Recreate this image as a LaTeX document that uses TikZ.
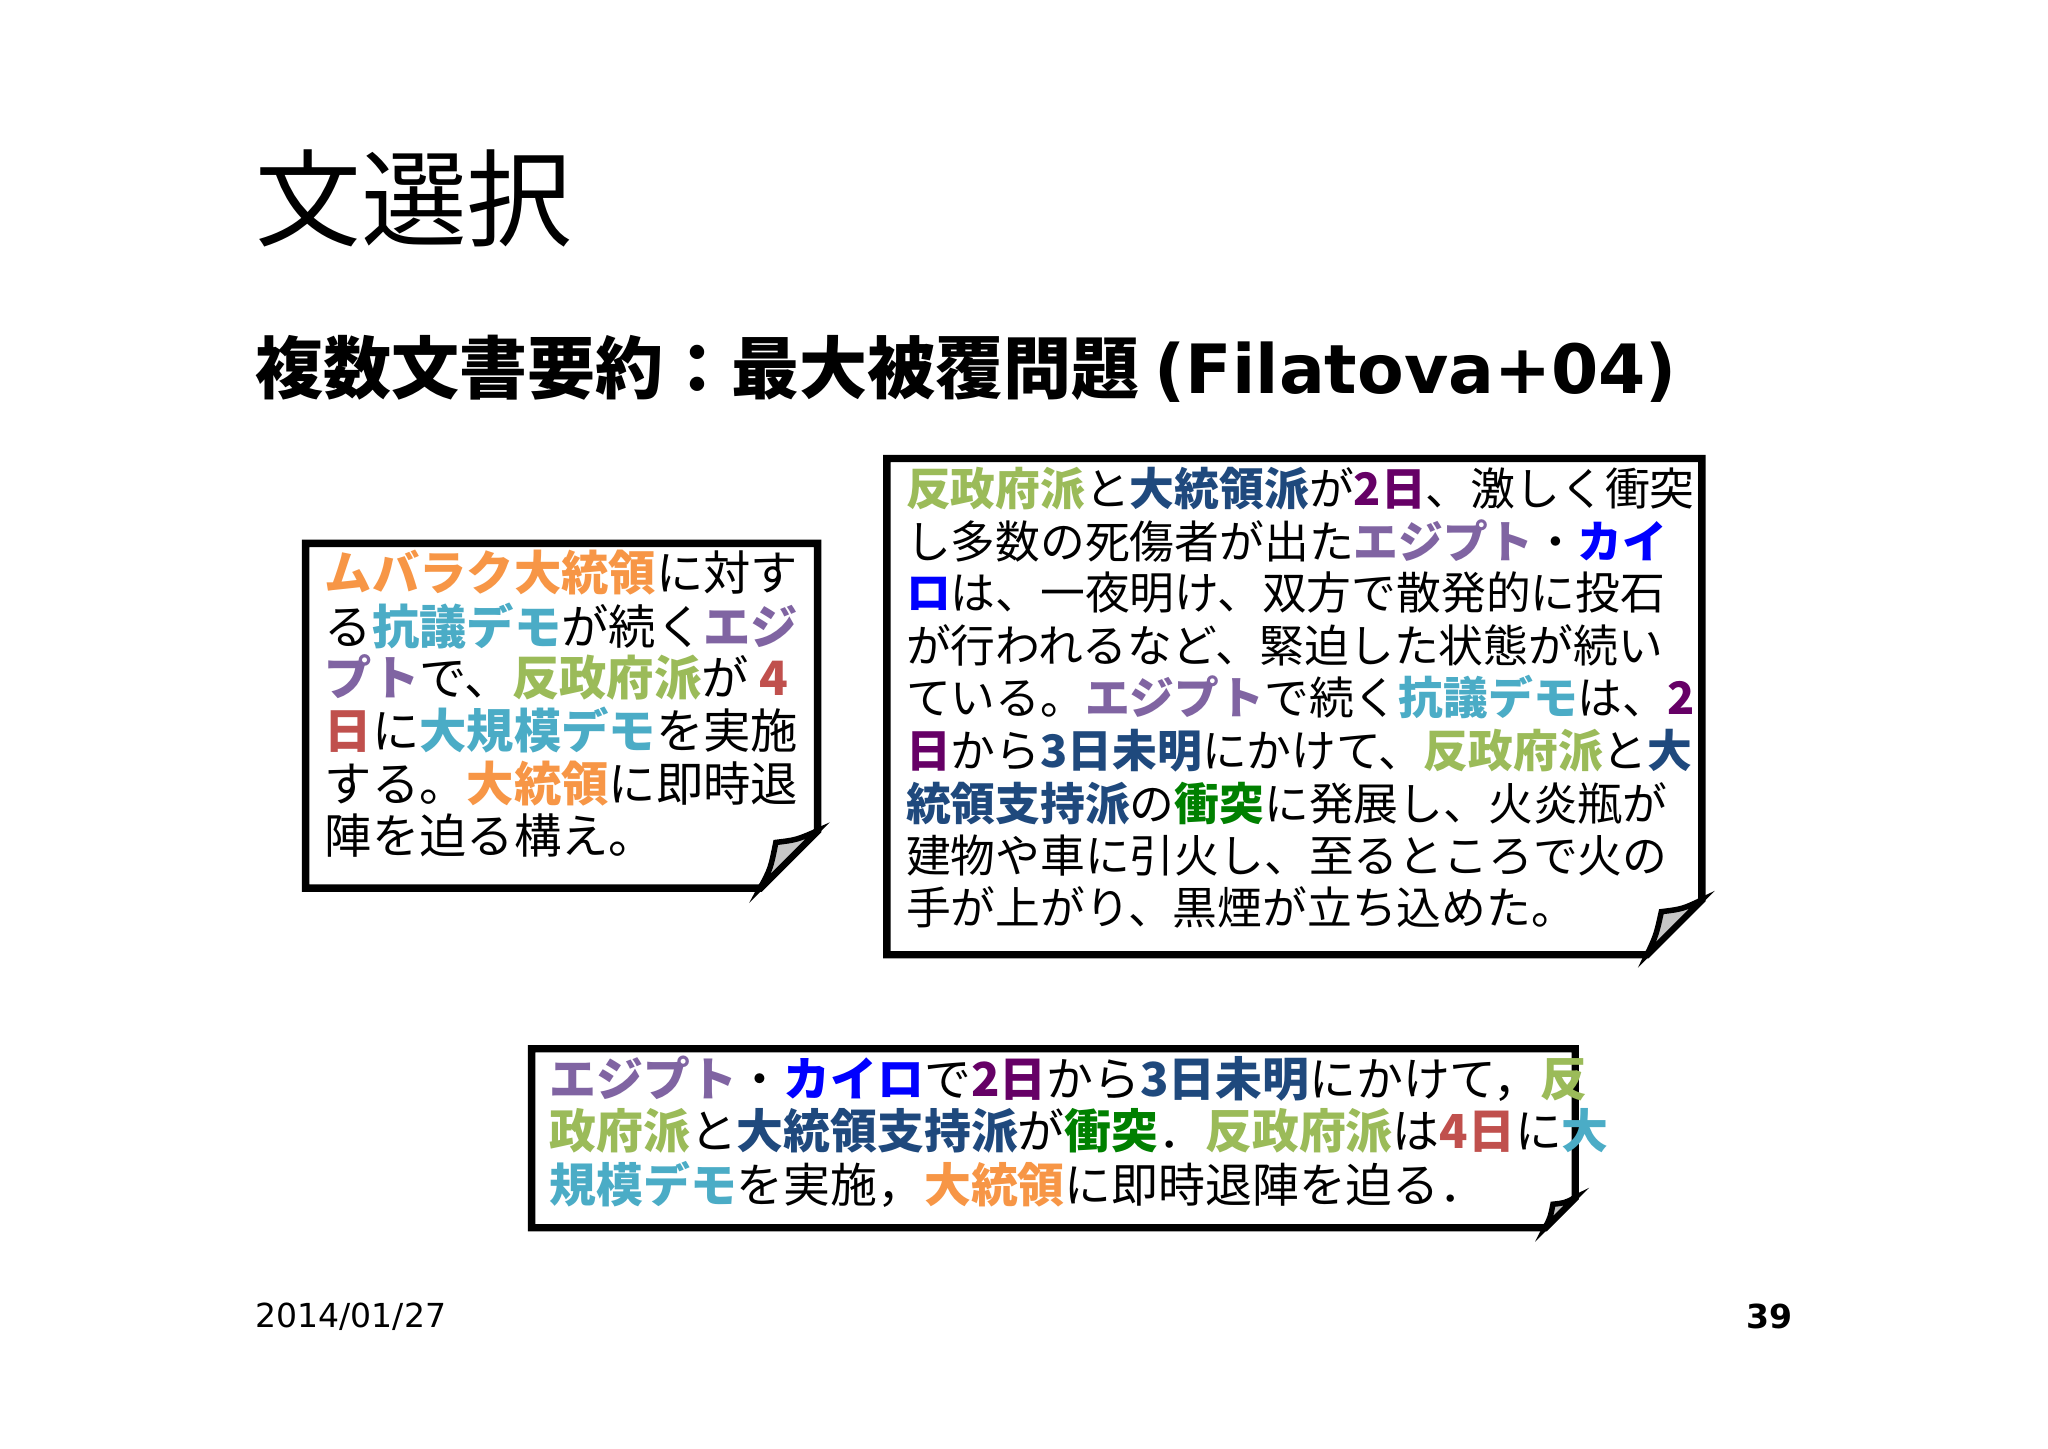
\documentclass[tikz,border=0pt]{standalone}
\usepackage{fontspec}
\setmainfont{Noto Sans CJK JP}
\newfontfamily\dejavu{DejaVu Sans}
\definecolor{cor}{HTML}{F79646}
\definecolor{ccy}{HTML}{4BACC6}
\definecolor{cpu}{HTML}{8064A2}
\definecolor{cgr}{HTML}{9BBB59}
\definecolor{cre}{HTML}{C0504D}
\definecolor{cdb}{HTML}{1F497D}
\definecolor{cdp}{HTML}{660066}
\definecolor{cbl}{HTML}{0000FF}
\definecolor{cdg}{HTML}{008000}
\newcommand\OR[1]{{\bfseries\color{cor}#1}}
\newcommand\CY[1]{{\bfseries\color{ccy}#1}}
\newcommand\PU[1]{{\bfseries\color{cpu}#1}}
\newcommand\GR[1]{{\bfseries\color{cgr}#1}}
\newcommand\RE[1]{{\bfseries\color{cre}#1}}
\newcommand\DB[1]{{\bfseries\color{cdb}#1}}
\newcommand\DP[1]{{\bfseries\color{cdp}#1}}
\newcommand\BL[1]{{\bfseries\color{cbl}#1}}
\newcommand\DG[1]{{\bfseries\color{cdg}#1}}
\begin{document}
\begin{tikzpicture}[x=0.01cm,y=-0.01cm,
  ln/.style={anchor=west,inner sep=0pt},
  lt/.style={ln,font=\fontsize{10.3pt}{12pt}\selectfont},
  rt/.style={ln,font=\fontsize{9.75pt}{12pt}\selectfont},
  bt/.style={ln,font=\fontsize{10.2pt}{12pt}\selectfont},
  paper/.style={draw=black,line width=1.6pt,fill=white,line join=miter},
  fold/.style={draw=black,line width=1.2pt,fill=gray!45}]
\useasboundingbox (0,0) rectangle (1568,1109);
\node[ln,font=\fontsize{23pt}{26pt}\selectfont] (title) at (195,152) {文選択};
\node[ln,font=\fontsize{14.8pt}{17pt}\selectfont\bfseries] (head) at (195,282) {複数文書要約：最大被覆問題 {\dejavu\bfseries (Filatova+04)}};
% left box
\draw[paper] (234,416) -- (626,416) -- (626,636) -- (582,680) -- (234,680) -- cycle;
\draw[fold] (582,680) .. controls (590,665) .. (594,645) .. controls (610,643) .. (626,636) -- cycle;
\node[lt] (l1) at (248,438) {\OR{ムバラク大統領}に対す};
\node[lt] (l2) at (248,479) {る\CY{抗議デモ}が続く\PU{エジ}};
\node[lt] (l3) at (248,519) {\PU{プト}で、\GR{反政府派}が \RE{4}};
\node[lt] (l4) at (248,559) {\RE{日}に\CY{大規模デモ}を実施};
\node[lt] (l5) at (248,600) {する。\OR{大統領}に即時退};
\node[lt] (l6) at (248,640) {陣を迫る構え。};
% right box
\draw[paper] (679,351) -- (1303,351) -- (1303,689) -- (1261,731) -- (679,731) -- cycle;
\draw[fold] (1261,731) .. controls (1268,716) .. (1272,698) .. controls (1288,696) .. (1303,689) -- cycle;
\node[rt] (r1) at (693,374) {\GR{反政府派}と\DB{大統領派}が\DP{2日}、激しく衝突};
\node[rt] (r2) at (693,414) {し多数の死傷者が出た\PU{エジプト}・\BL{カイ}};
\node[rt] (r3) at (693,454) {\BL{ロ}は、一夜明け、双方で散発的に投石};
\node[rt] (r4) at (693,494) {が行われるなど、緊迫した状態が続い};
\node[rt] (r5) at (693,534) {ている。\PU{エジプト}で続く\CY{抗議デモ}は、\DP{2}};
\node[rt] (r6) at (693,575) {\DP{日}から\DB{3日未明}にかけて、\GR{反政府派}と\DB{大}};
\node[rt] (r7) at (693,615) {\DB{統領支持派}の\DG{衝突}に発展し、火炎瓶が};
\node[rt] (r8) at (693,655) {建物や車に引火し、至るところで火の};
\node[rt] (r9) at (693,695) {手が上がり、黒煙が立ち込めた。};
% bottom box
\draw[paper] (407,803) -- (1206,803) -- (1206,917) -- (1183,940) -- (407,940) -- cycle;
\draw[fold] (1183,940) .. controls (1187,932) .. (1189,922) .. controls (1198,921) .. (1206,917) -- cycle;
\node[bt] (b1) at (420,826) {\PU{エジプト}・\BL{カイロ}で\DP{2日}から\DB{3日未明}にかけて，\GR{反}};
\node[bt] (b2) at (420,866) {\GR{政府派}と\DB{大統領支持派}が\DG{衝突}．\GR{反政府派}は\RE{4日}に\CY{大}};
\node[bt] (b3) at (420,907) {\CY{規模デモ}を実施，\OR{大統領}に即時退陣を迫る．};
\node[ln,font=\dejavu\fontsize{7.2pt}{9pt}\selectfont] (date) at (195,1008) {2014/01/27};
\node[anchor=east,inner sep=0pt,font=\dejavu\bfseries\fontsize{7.2pt}{9pt}\selectfont] (pg) at (1373,1008) {39};
\end{tikzpicture}
\end{document}
